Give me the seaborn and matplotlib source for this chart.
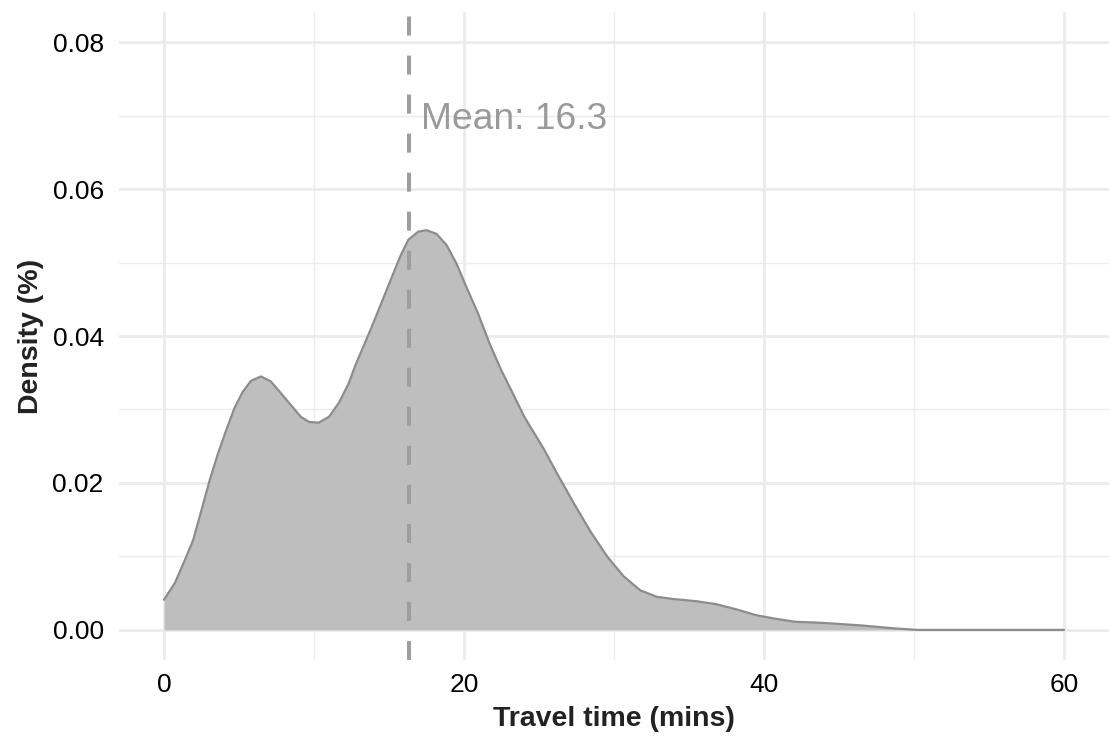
import matplotlib
matplotlib.use("Agg")
import matplotlib.pyplot as plt
import seaborn as sns
import numpy as np
import pandas as pd
from matplotlib.ticker import MultipleLocator

# ---- data ----
travel_time = [0.0, 0.73, 1.39, 1.94, 2.5, 3.05, 3.6, 4.15, 4.7, 5.25, 5.8, 6.47,
               7.13, 7.8, 8.46, 9.12, 9.67, 10.3, 11.0, 11.66, 12.3, 12.76, 13.86,
               14.97, 15.74, 16.29, 16.95, 17.5, 18.17, 18.83, 19.49, 20.15, 20.93,
               21.7, 22.47, 23.25, 24.02, 25.3, 26.2, 27.33, 28.43, 29.54, 30.64,
               31.74, 32.85, 33.95, 35.5, 36.8, 38.15, 39.47, 40.8, 42.1, 43.4,
               44.3, 46.5, 48.7, 50.2, 55.0, 60.0]
density = [0.0041, 0.0064, 0.0095, 0.0122, 0.0163, 0.0204, 0.0240, 0.0272, 0.0302,
           0.0324, 0.0339, 0.0345, 0.0338, 0.0322, 0.0306, 0.0290, 0.0283, 0.0282,
           0.0290, 0.0309, 0.0335, 0.0360, 0.0413, 0.0469, 0.0508, 0.0531, 0.0542,
           0.0544, 0.0539, 0.0524, 0.0499, 0.0467, 0.0431, 0.0390, 0.0354, 0.0322,
           0.0290, 0.0247, 0.0213, 0.0172, 0.0134, 0.0100, 0.0073, 0.0054, 0.0045,
           0.0042, 0.0039, 0.0035, 0.0028, 0.0020, 0.0015, 0.0011, 0.0010, 0.0009,
           0.0006, 0.0002, 0.0, 0.0, 0.0]
mean_value = 16.3
x_ticks = [0, 20, 40, 60]
y_ticks = [0.00, 0.02, 0.04, 0.06, 0.08]
y_tick_labels = ["0.00", "0.02", "0.04", "0.06", "0.08"]

df = pd.DataFrame({"time": travel_time, "density": density})

sns.set_theme(style="whitegrid")
plt.rcParams["font.family"] = ["Liberation Sans", "DejaVu Sans"]
plt.rcParams["lines.scale_dashes"] = False

fig = plt.figure(figsize=(11.09, 7.40), dpi=100)
ax = fig.add_axes([119 / 1109, 1 - 660 / 740, 1 - 119 / 1109, (660 - 12) / 740])

ax.fill_between(df["time"], df["density"], 0, color="#BEBEBE", linewidth=0, zorder=2)
sns.lineplot(data=df, x="time", y="density", ax=ax, color="#8C8C8C", linewidth=1.6,
             zorder=3, estimator=None, sort=False)

ax.axvline(mean_value, color="#9E9E9E", linewidth=2.9, linestyle=(0, (13.7, 14.4)),
           zorder=4)
ax.text(17.15, 0.0682, f"Mean: {mean_value}", color="#9A9A9A", fontsize=26.8,
        ha="left", va="baseline", zorder=5)

ax.set_xlim(-3, 63)
ax.set_ylim(-0.0041, 0.0841)
ax.set_xticks(x_ticks)
ax.set_yticks(y_ticks)
ax.set_yticklabels(y_tick_labels)
ax.xaxis.set_minor_locator(MultipleLocator(10))
ax.yaxis.set_minor_locator(MultipleLocator(0.01))

ax.grid(which="major", color="#EBEBEB", linewidth=2.0)
ax.grid(which="minor", color="#EBEBEB", linewidth=1.0)
ax.set_axisbelow(True)
for s in ax.spines.values():
    s.set_visible(False)
ax.set_facecolor("white")

ax.tick_params(axis="both", which="both", length=0, labelsize=19, labelcolor="#000000")
ax.tick_params(axis="x", pad=9)
ax.tick_params(axis="y", pad=11)

ax.set_xlabel("Travel time (mins)", fontsize=20.5, fontweight="bold", color="#222222",
              labelpad=7)
ax.set_ylabel("Density (%)", fontsize=20.5, fontweight="bold", color="#222222",
              labelpad=6)

fig.savefig("out.png", dpi=100, facecolor="white")
